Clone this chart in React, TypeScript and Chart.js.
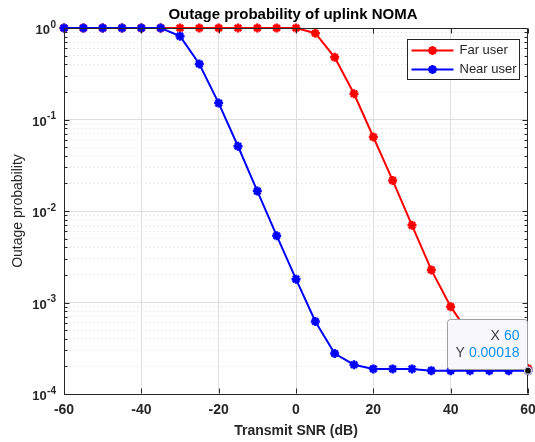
import React, { useEffect, useRef } from 'react';
import { Chart, registerables } from 'chart.js';

Chart.register(...registerables);

const snr = [-60, -55, -50, -45, -40, -35, -30, -25, -20, -15, -10, -5, 0, 5, 10, 15, 20, 25, 30, 35, 40, 45, 50, 55, 60];
const farUser = [1, 1, 1, 1, 1, 1, 1, 1, 1, 1, 1, 1, 1, 0.877, 0.479, 0.191, 0.0644, 0.0216, 0.00697, 0.00227, 0.0009, 0.00044, 0.00027, 0.00021, 0.00019];
const nearUser = [1, 1, 1, 1, 1, 1, 0.814, 0.404, 0.151, 0.051, 0.0165, 0.00537, 0.0018, 0.00062, 0.000277, 0.000209, 0.000188, 0.000188, 0.000188, 0.00018, 0.00018, 0.00018, 0.00018, 0.00018, 0.00018];
const xTicks = [-60, -40, -20, 0, 20, 40, 60];
const yTickValues = [1e-4, 1e-3, 1e-2, 1e-1, 1];
const yTickBase = '10';
const yTickExponents = ['-4', '-3', '-2', '-1', '0'];
const seriesNames = ['Far user', 'Near user'];
const seriesColors = ['#ff0000', '#0000ff'];
const titleText = 'Outage probability of uplink NOMA';
const xTitle = 'Transmit SNR (dB)';
const yTitle = 'Outage probability';
const datatipX = 60;
const datatipY = 0.00018;
const datatipLabels = ['X', 'Y'];
const datatipValues = ['60', '0.00018'];

const FONT = '"Liberation Sans", Arial, sans-serif';
const AXIS = '#262626';

const majorIndex = (v: number) => yTickValues.findIndex((m) => Math.abs(Math.log10(v) - Math.log10(m)) < 1e-6);

const decorPlugin = {
  id: 'decor',
  afterDraw(chart: any) {
    const { ctx, chartArea: a, scales } = chart;
    const xs = scales.x;
    const ys = scales.y;
    const L = Math.round(a.left) + 0.5;
    const R = Math.round(a.right) - 0.5;
    const T = Math.round(a.top) + 0.5;
    const B = Math.round(a.bottom) - 0.5;
    ctx.save();
    ctx.strokeStyle = AXIS;
    ctx.lineWidth = 1;
    ctx.beginPath();
    ctx.moveTo(L, T);
    ctx.lineTo(R, T);
    ctx.lineTo(R, B);
    ctx.stroke();
    ctx.beginPath();
    xTicks.forEach((v) => {
      const p = Math.round(xs.getPixelForValue(v)) + 0.5;
      ctx.moveTo(p, B);
      ctx.lineTo(p, B - 5);
      ctx.moveTo(p, T);
      ctx.lineTo(p, T + 5);
    });
    ys.ticks.forEach((t: any) => {
      const p = Math.round(ys.getPixelForValue(t.value)) + 0.5;
      const len = majorIndex(t.value) >= 0 ? 5 : 3;
      ctx.moveTo(L, p);
      ctx.lineTo(L + len, p);
      ctx.moveTo(R, p);
      ctx.lineTo(R - len, p);
    });
    ctx.stroke();

    ctx.fillStyle = AXIS;
    ctx.textBaseline = 'middle';
    ctx.textAlign = 'right';
    yTickValues.forEach((v, i) => {
      const p = ys.getPixelForValue(v);
      const rx = a.left - 8;
      ctx.font = `bold 10px ${FONT}`;
      const ew = ctx.measureText(yTickExponents[i]).width;
      ctx.fillText(yTickExponents[i], rx, p - 3);
      ctx.font = `bold 13px ${FONT}`;
      ctx.fillText(yTickBase, rx - ew - 0.5, p + 2.5);
    });

    ctx.fillStyle = '#000';
    ctx.font = `bold 15px ${FONT}`;
    ctx.textAlign = 'center';
    ctx.textBaseline = 'middle';
    ctx.fillText(titleText, (a.left + a.right) / 2 - 3, 15);

    const px = xs.getPixelForValue(datatipX);
    const py = ys.getPixelForValue(datatipY);
    const w = 80;
    const h = 50;
    const bx = Math.round(px - 1 - w) + 0.5;
    const by = Math.round(py - 2 - h) + 0.5;
    ctx.beginPath();
    if ((ctx as any).roundRect) (ctx as any).roundRect(bx, by, w, h, 3);
    else ctx.rect(bx, by, w, h);
    ctx.fillStyle = '#f8f8fc';
    ctx.fill();
    ctx.strokeStyle = '#a0a0a0';
    ctx.lineWidth = 1;
    ctx.stroke();
    ctx.font = `14px ${FONT}`;
    ctx.textAlign = 'right';
    ctx.textBaseline = 'middle';
    const rx = bx + w - 8;
    [0, 1].forEach((i) => {
      const yy = by + 17 + i * 16.5;
      ctx.fillStyle = '#0d8ff2';
      ctx.fillText(datatipValues[i], rx, yy);
      const vw = ctx.measureText(datatipValues[i]).width;
      ctx.fillStyle = '#404040';
      ctx.fillText(datatipLabels[i], rx - vw - 4, yy);
    });
    ctx.beginPath();
    ctx.arc(px, py, 3.5, 0, Math.PI * 2);
    ctx.fillStyle = '#111';
    ctx.fill();
    ctx.strokeStyle = '#d8d8d8';
    ctx.lineWidth = 1.2;
    ctx.stroke();

    const lw = 112;
    const lh = 40;
    const lx = Math.round(a.right - 9 - lw) + 0.5;
    const ly = Math.round(a.top + 11) + 0.5;
    ctx.fillStyle = '#fff';
    ctx.fillRect(lx, ly, lw, lh);
    ctx.strokeStyle = AXIS;
    ctx.lineWidth = 1;
    ctx.strokeRect(lx, ly, lw, lh);
    ctx.font = `13px ${FONT}`;
    ctx.textAlign = 'left';
    ctx.textBaseline = 'middle';
    seriesNames.forEach((name, i) => {
      const yy = ly + 11 + i * 19;
      ctx.strokeStyle = seriesColors[i];
      ctx.lineWidth = 2;
      ctx.beginPath();
      ctx.moveTo(lx + 4, yy);
      ctx.lineTo(lx + 46, yy);
      ctx.stroke();
      const cx = lx + 25;
      const r = 4.5;
      ctx.lineWidth = 2.5;
      ctx.beginPath();
      for (let k = 0; k < 4; k++) {
        const ang = (k * Math.PI) / 4;
        ctx.moveTo(cx - r * Math.cos(ang), yy - r * Math.sin(ang));
        ctx.lineTo(cx + r * Math.cos(ang), yy + r * Math.sin(ang));
      }
      ctx.stroke();
      ctx.fillStyle = '#262626';
      ctx.fillText(name, lx + 52, yy);
    });
    ctx.restore();
  },
};

export default function App() {
  const ref = useRef<HTMLCanvasElement | null>(null);
  useEffect(() => {
    if (!ref.current) return;
    Chart.defaults.font.family = FONT;
    const mk = (i: number, data: number[], order: number) => ({
      label: seriesNames[i],
      data: snr.map((x, k) => ({ x, y: data[k] })),
      borderColor: seriesColors[i],
      backgroundColor: seriesColors[i],
      borderWidth: 2,
      pointStyle: 'star',
      pointRadius: 4.5,
      pointBorderWidth: 2.5,
      pointBorderColor: seriesColors[i],
      pointBackgroundColor: seriesColors[i],
      tension: 0,
      clip: false,
      order,
    });
    const chart = new Chart(ref.current, {
      type: 'line',
      data: {
        datasets: [mk(0, farUser, 1), mk(1, nearUser, 0)] as any,
      },
      plugins: [decorPlugin],
      options: {
        responsive: false,
        devicePixelRatio: 1,
        animation: false,
        events: [],
        layout: { padding: { top: 28, right: 7, left: 0, bottom: 0 } },
        plugins: { legend: { display: false }, tooltip: { enabled: false }, title: { display: false } },
        scales: {
          x: {
            type: 'linear',
            min: -60,
            max: 60,
            afterBuildTicks: (s: any) => {
              s.ticks = xTicks.map((v) => ({ value: v }));
            },
            afterFit: (s: any) => {
              s.height = 48;
              s.paddingLeft = 0;
              s.paddingRight = 0;
            },
            ticks: {
              autoSkip: false,
              maxRotation: 0,
              padding: 8,
              color: AXIS,
              font: { size: 14, weight: 'bold' },
              callback: (v: any) => String(v),
            },
            grid: {
              drawTicks: false,
              color: (c: any) => (c.tick && (c.tick.value === -60 || c.tick.value === 60) ? 'rgba(0,0,0,0)' : '#dedede'),
              lineWidth: 1,
            },
            border: { color: AXIS, width: 1 },
            title: {
              display: true,
              text: xTitle,
              color: AXIS,
              font: { size: 14, weight: 'bold' },
              padding: { top: 0, bottom: 2 },
            },
          },
          y: {
            type: 'logarithmic',
            min: 1e-4,
            max: 1,
            afterBuildTicks: (s: any) => {
              const t: any[] = [];
              for (let d = 0; d < yTickValues.length - 1; d++) {
                for (let k = 1; k <= 9; k++) t.push({ value: yTickValues[d] * k });
              }
              t.push({ value: yTickValues[yTickValues.length - 1] });
              s.ticks = t;
            },
            afterFit: (s: any) => {
              s.width = 64;
              s.paddingTop = 0;
              s.paddingBottom = 0;
            },
            ticks: {
              autoSkip: false,
              padding: 6,
              callback: () => '',
            },
            grid: {
              drawTicks: false,
              color: (c: any) => {
                if (!c.tick) return '#dedede';
                return majorIndex(c.tick.value) >= 0 ? '#dedede' : '#e6e6e6';
              },
              lineWidth: 1,
            },
            border: {
              color: AXIS,
              width: 1,
              dash: (c: any) => {
                if (!c || !c.tick) return [];
                return majorIndex(c.tick.value) >= 0 ? [] : [1.5, 2.5];
              },
            },
            title: {
              display: true,
              text: yTitle,
              color: AXIS,
              font: { size: 14, weight: 'normal' },
              padding: { top: 10, bottom: 0 },
            },
          },
        },
      } as any,
    });
    return () => chart.destroy();
  }, []);
  return (
    <div style={{ position: 'fixed', left: 0, top: 0, width: 535, height: 442, background: '#fff' }}>
      <canvas ref={ref} width={535} height={442} style={{ display: 'block', width: 535, height: 442 }} />
    </div>
  );
}
